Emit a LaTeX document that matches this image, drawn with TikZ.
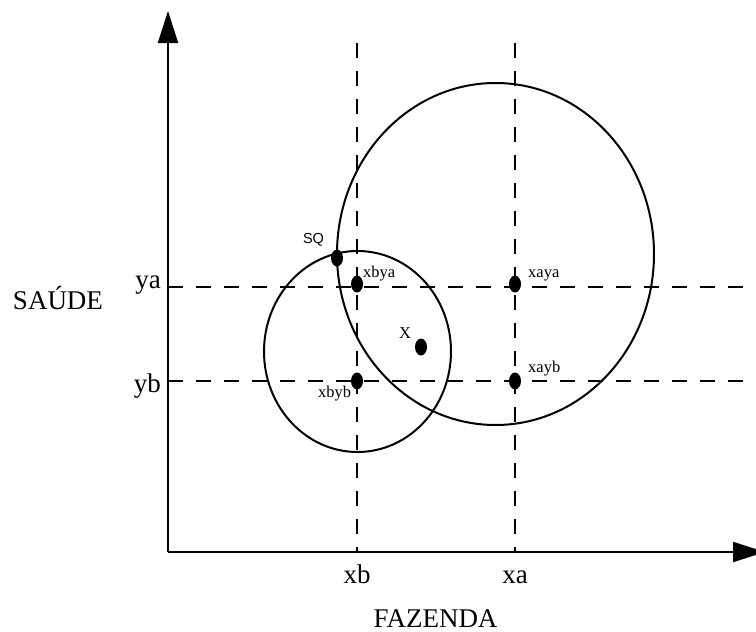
\documentclass[tikz,border=0pt]{standalone}
\usepackage{fontspec}
\setmainfont{Liberation Serif}
\newfontfamily\labsans{Liberation Sans}
\usetikzlibrary{arrows.meta,shapes.geometric}
\tikzset{
  axis/.style={line width=2.2pt,-{Triangle[length=32pt,width=20pt]}},
  guide/.style={line width=2pt,dash pattern=on 15pt off 13pt},
  curve/.style={line width=2pt},
  dot/.style={ellipse,fill=black,draw=none,minimum width=12pt,minimum height=17pt,inner sep=0pt},
  big/.style={font=\fontsize{27}{29}\selectfont,inner sep=0pt},
  small/.style={font=\fontsize{16.5}{18}\selectfont,inner sep=0pt},
}
\begin{document}
\begin{tikzpicture}[x=1pt,y=-1pt]
\useasboundingbox (0,0) rectangle (756,632);
% axes
\coordinate (O) at (168,552);
\coordinate (ytop) at (168,11);
\coordinate (xend) at (765,552);
% guides
\coordinate (xbT) at (357,43);
\coordinate (xbB) at (357,552);
\coordinate (xaT) at (515,43);
\coordinate (xaB) at (515,552);
\coordinate (yaL) at (168,287);
\coordinate (yaR) at (760,287);
\coordinate (ybL) at (168,381);
\coordinate (ybR) at (760,381);
\draw[guide] (xbT) -- (xbB);
\draw[guide] (xaT) -- (xaB);
\draw[guide] (yaL) -- (yaR);
\draw[guide] (ybL) -- (ybR);
\draw[axis] (O) -- (ytop);
\draw[axis] (O) -- (xend);
% ellipses
\coordinate (bigC) at (495.5,254);
\coordinate (smallC) at (357.5,351.5);
\draw[curve] (bigC) ellipse [x radius=158.5pt, y radius=171pt];
\draw[curve] (smallC) ellipse [x radius=93.5pt, y radius=100.5pt];
% dots
\node[dot] (sq) at (337,258) {};
\node[dot] (xbya) at (357,284) {};
\node[dot] (x) at (421,347) {};
\node[dot] (xbyb) at (357,381) {};
\node[dot] (xaya) at (515,284) {};
\node[dot] (xayb) at (515,381) {};
% small labels
\node[small,font=\labsans\fontsize{14.5}{16}\selectfont,anchor=base] (lsq) at (313.5,243) {SQ};
\node[small,anchor=base west] (lxbya) at (363,277) {xbya};
\node[small,anchor=base] (lx) at (405,338) {X};
\node[small,anchor=base west] (lxaya) at (528,277) {xaya};
\node[small,anchor=base west] (lxayb) at (528,372) {xayb};
\node[small,anchor=base] (lxbyb) at (334.5,397) {xbyb};
% axis labels
\node[big,anchor=base east] (lya) at (161,288) {ya};
\node[big,anchor=base east] (lyb) at (161,392) {yb};
\node[big,anchor=base] (lsaude) at (58,309) {SAÚDE};
\node[big,anchor=base] (lxb) at (357,583) {xb};
\node[big,anchor=base] (lxa) at (515,583) {xa};
\node[big,anchor=base] (lfaz) at (435.5,627) {FAZENDA};
\end{tikzpicture}
\end{document}
